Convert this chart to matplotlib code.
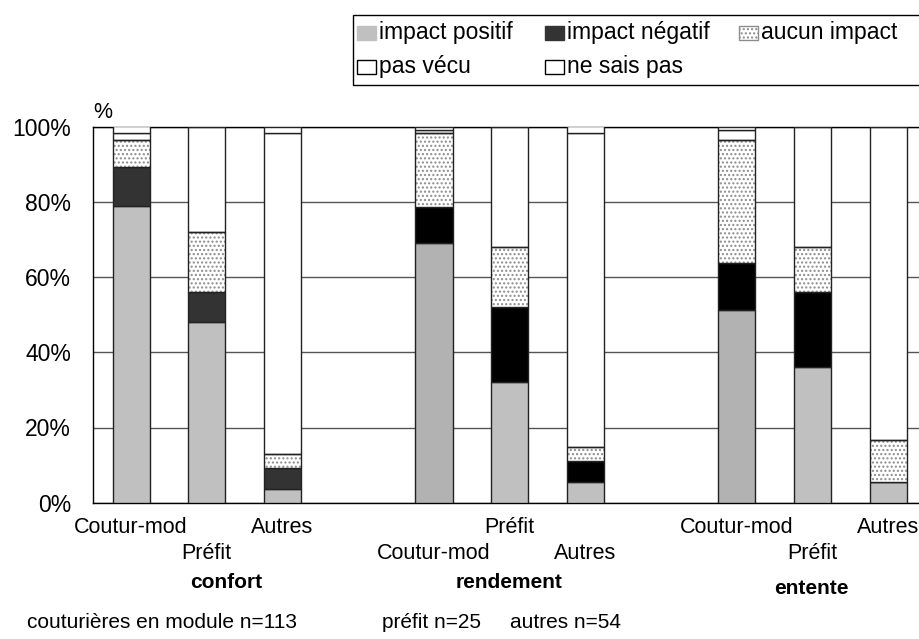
import numpy as np
import matplotlib
matplotlib.use('Agg')
import matplotlib.pyplot as plt
from matplotlib.patches import Rectangle

plt.rcParams['font.family'] = ['Liberation Sans', 'DejaVu Sans']
plt.rcParams['hatch.linewidth'] = 1.0

# one bar per population, three themes
groupes = ['confort', 'rendement', 'entente']
populations = ['Coutur-mod', 'Préfit', 'Autres']
series = ['impact positif', 'impact négatif', 'aucun impact', 'pas vécu', 'ne sais pas']

# percentages, order: confort (C, P, A), rendement (C, P, A), entente (C, P, A)
positif = [78.8, 48, 3.7, 69.0, 32, 5.6, 51.3, 36, 5.6]
negatif = [10.6, 8, 5.6, 9.7, 20, 5.6, 12.4, 20, 0]
aucun = [7.1, 16, 3.7, 19.5, 16, 3.7, 32.7, 12, 11.1]
pas_vecu = [1.8, 28, 85.2, 0.9, 32, 83.3, 2.7, 32, 83.3]
ne_sais_pas = [1.8, 0, 1.8, 0.9, 0, 1.9, 0.9, 0, 0]

effectifs = ['couturières en module n=113', 'préfit n=25', 'autres n=54']

# slot positions: three bars per group, an empty slot between groups
pos = np.array([0, 1, 2, 4, 5, 6, 8, 9, 10])
w = 0.49
fs = 15.5

col_pos = ['#c0c0c0', '#c0c0c0', '#c0c0c0', '#b2b2b2', '#c0c0c0', '#c0c0c0',
           '#b2b2b2', '#c0c0c0', '#c0c0c0']
col_neg = ['#333333'] * 3 + ['#000000'] * 6
edge = '#222222'
hatch_col = '#8c8c8c'

W, H = 920, 639
fig = plt.figure(figsize=(W / 100, H / 100), dpi=100)
ax = fig.add_axes([93.2 / W, 1 - 502.7 / H, 833 / W, 376 / H])

bottom = np.zeros(len(pos))
ax.bar(pos, positif, w, bottom=bottom, color=col_pos, edgecolor=edge, lw=1, zorder=3)
bottom += positif
ax.bar(pos, negatif, w, bottom=bottom, color=col_neg, edgecolor=edge, lw=1, zorder=3)
bottom += negatif
ax.bar(pos, aucun, w, bottom=bottom, color='white', edgecolor=hatch_col, lw=0,
       hatch='....', zorder=3)
ax.bar(pos, aucun, w, bottom=bottom, fill=False, edgecolor=edge, lw=1, zorder=4)
bottom += aucun
ax.bar(pos, pas_vecu, w, bottom=bottom, color='white', edgecolor=edge, lw=1, zorder=3)
bottom += pas_vecu
ax.bar(pos, ne_sais_pas, w, bottom=bottom, color='white', edgecolor=edge, lw=1, zorder=3)

ax.set_xlim(-0.5, 10.5)
ax.set_ylim(0, 100)
ax.set_yticks(np.arange(0, 101, 20))
ax.set_yticklabels([f'{v}%' for v in range(0, 101, 20)], fontsize=16.5)
ax.tick_params(axis='y', length=0, pad=16)
ax.set_xticks([])
ax.yaxis.grid(True, color='#555555', lw=1)
ax.set_axisbelow(True)
for s in ['top', 'left', 'bottom']:
    ax.spines[s].set_color('black')
    ax.spines[s].set_linewidth(1)
ax.spines['right'].set_visible(False)

# staggered category labels
trans = ax.get_xaxis_transform()
rows = [0, 1, 0, 1, 0, 1, 0, 1, 0]
for i, (x, r) in enumerate(zip(pos, rows)):
    ax.text(x, -0.067 - 0.069 * r, populations[i % 3], transform=trans,
            ha='center', va='center', fontsize=fs)

gx = [1.25, 4.99, 8.98]
gy = [-0.213, -0.213, -0.229]
for g, x, y in zip(groupes, gx, gy):
    ax.text(x, y, g, transform=trans, ha='center', va='center',
            fontsize=15, fontweight='bold')

fig.text(103 / W, 1 - 112 / H, '%', fontsize=fs, ha='center', va='center')

ex = [27, 382, 510]
for t, x in zip(effectifs, ex):
    fig.text(x / W, 1 - 623 / H, t, fontsize=15, ha='left', va='center')

# legend box drawn by hand, row-major like the spreadsheet one
fig.add_artist(Rectangle((353 / W, 1 - 85 / H), 580 / W, 70 / H,
                         transform=fig.transFigure, fill=False,
                         edgecolor='black', lw=1))
leg_x = [357, 545, 739, 357, 545]
leg_y = [33, 33, 33, 67, 67]
leg_face = [col_pos[1], '#333333', 'white', 'white', 'white']
leg_edge = [col_pos[1], '#333333', hatch_col, 'black', 'black']
leg_hatch = [None, None, '....', None, None]
for lab, x, y, fc, ec, ht in zip(series, leg_x, leg_y,
                                 leg_face, leg_edge, leg_hatch):
    fig.add_artist(Rectangle((x / W, 1 - (y + 7) / H), 19 / W, 14 / H,
                             transform=fig.transFigure, facecolor=fc,
                             edgecolor=ec, lw=1, hatch=ht))
    fig.text((x + 22) / W, 1 - y / H, lab, fontsize=16.5, ha='left', va='center')

fig.savefig('out.png', dpi=100)
